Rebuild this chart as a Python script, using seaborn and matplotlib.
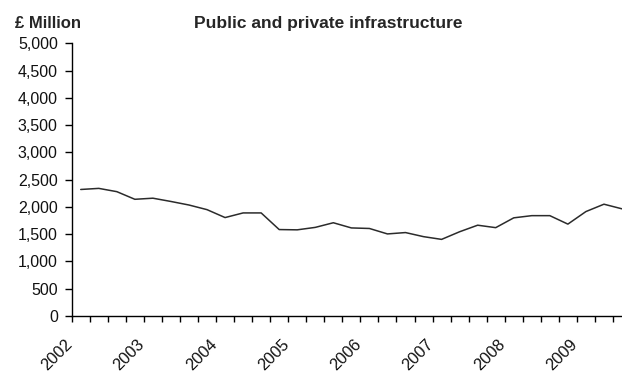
import matplotlib
matplotlib.use("Agg")
import matplotlib.pyplot as plt
import matplotlib.transforms as mtransforms
import seaborn as sns
import pandas as pd
import numpy as np

quarters = [f"{y} Q{q}" for y in range(2002, 2010) for q in range(1, 5)][:31]
values = [2320, 2340, 2280, 2140, 2160, 2100, 2035, 1950,
          1805, 1890, 1890, 1585, 1580, 1625, 1710, 1615,
          1605, 1505, 1530, 1455, 1405, 1545, 1665, 1620,
          1800, 1840, 1840, 1685, 1915, 2050, 1965]
year_labels = ["2002", "2003", "2004", "2005", "2006", "2007", "2008", "2009"]
y_ticks = [0, 500, 1000, 1500, 2000, 2500, 3000, 3500, 4000, 4500, 5000]

df = pd.DataFrame({"quarter": quarters, "value": values})
df["pos"] = range(len(df))

sns.set_theme(style="white")
plt.rcParams["font.family"] = ["Liberation Sans", "DejaVu Sans"]

fig = plt.figure(figsize=(6.22, 3.72), dpi=100)
ax = fig.add_axes([0.1153, 0.1505, 0.8847, 0.7331])

sns.lineplot(data=df, x="pos", y="value", ax=ax, color="#2b2b2b", linewidth=1.1)

ax.set_xlim(-0.5, 30.0)
ax.set_ylim(0, 5000)
ax.set_yticks(y_ticks)
ax.set_yticklabels([f"{v:,}" for v in y_ticks], fontsize=11.5, color="#111111")

ax.set_xticks(np.arange(-0.5, 30.0, 1.0))
ax.set_xticklabels([])
ax.set_xticks(np.arange(0, len(year_labels) * 4, 4), minor=True)
ax.set_xticklabels(year_labels, minor=True, rotation=45, ha="right",
                   rotation_mode="anchor", fontsize=11.8, color="#111111")
ax.tick_params(axis="x", which="minor", length=0, pad=15)
ax.tick_params(axis="x", which="major", direction="out", length=4, width=1,
               color="black", bottom=True)
ax.tick_params(axis="y", direction="out", length=5, width=1, color="black",
               left=True, pad=5)
offset = mtransforms.ScaledTranslation(-0.16, 0, fig.dpi_scale_trans)
for lbl in ax.get_xticklabels(minor=True):
    lbl.set_transform(lbl.get_transform() + offset)

ax.set_xlabel("")
ax.set_ylabel("")
for s in ["top", "right"]:
    ax.spines[s].set_visible(False)
for s in ["left", "bottom"]:
    ax.spines[s].set_color("black")
    ax.spines[s].set_linewidth(1.0)

fig.text(0.024, 0.937, "£ Million", fontsize=12, fontweight="bold", ha="left", va="center")
fig.text(0.527, 0.937, "Public and private infrastructure", fontsize=12.5,
         fontweight="bold", ha="center", va="center")

fig.savefig("out.png", dpi=100, facecolor="white")
